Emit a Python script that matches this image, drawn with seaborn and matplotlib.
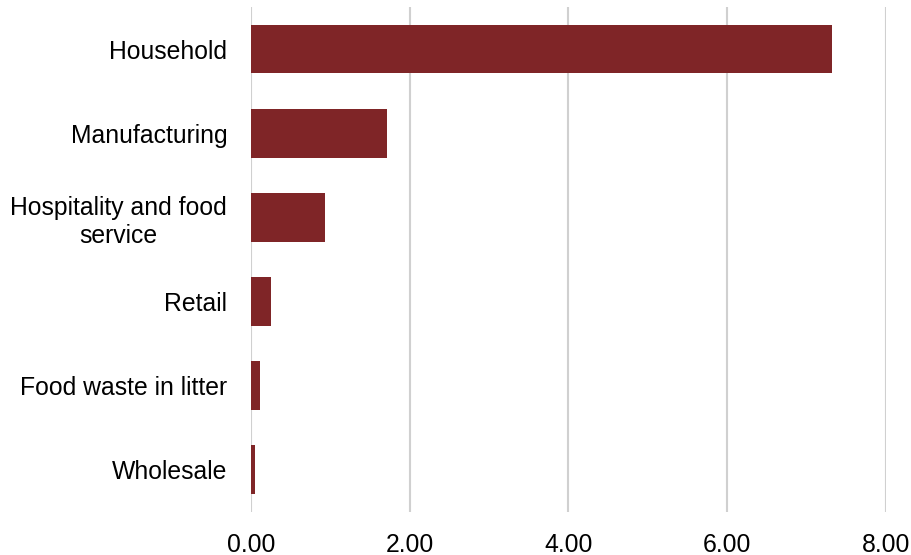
import matplotlib
matplotlib.use("Agg")
import matplotlib.pyplot as plt
import seaborn as sns
import pandas as pd

# data
categories = ["Household", "Manufacturing", "Hospitality and food\nservice",
              "Retail", "Food waste in litter", "Wholesale"]
values = [7.32, 1.71, 0.93, 0.26, 0.11, 0.055]
x_ticks = [0, 2, 4, 6, 8]

BAR_COLOR = "#7f2527"
GRID_COLOR = "#d0d0d0"
FONT_SIZE = 17.8

sns.set_theme(style="white")
plt.rcParams["font.family"] = ["Liberation Sans", "DejaVu Sans"]

df = pd.DataFrame({"category": categories, "value": values})

fig = plt.figure(figsize=(9.12, 5.55), dpi=100)
ax = fig.add_axes([0.275, 0.0775, 0.6965, 0.9099])

sns.barplot(data=df, x="value", y="category", orient="h", color=BAR_COLOR,
            width=0.58, saturation=1, linewidth=0, ax=ax, zorder=3)

ax.set_xlim(0, 8)
ax.set_ylim(5.5, -0.5)
ax.set_xticks(x_ticks)
ax.set_xticklabels([f"{t:.2f}" for t in x_ticks])
ax.xaxis.grid(True, color=GRID_COLOR, linewidth=1.5, zorder=0)
ax.set_axisbelow(True)
for s in ax.spines.values():
    s.set_visible(False)

ax.set_xlabel("")
ax.set_ylabel("")
ax.tick_params(axis="x", length=0, pad=15, labelsize=FONT_SIZE, colors="#000000")
ax.tick_params(axis="y", length=0, pad=17, labelsize=FONT_SIZE, colors="#000000")
for lbl in ax.get_yticklabels():
    lbl.set_multialignment("center")

fig.savefig("out.png", dpi=100)
